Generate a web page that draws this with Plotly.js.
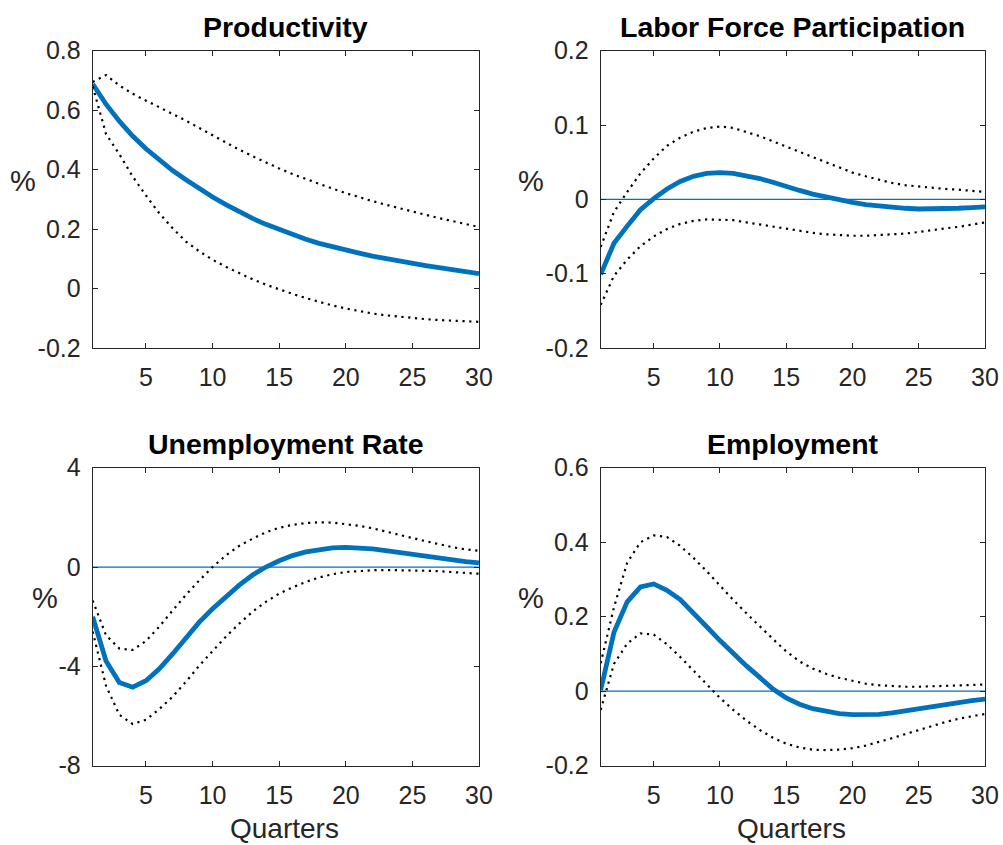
<!DOCTYPE html>
<html>
<head>
<meta charset="utf-8">
<script src="https://cdn.plot.ly/plotly-3.0.1.min.js"></script>
<style>
html,body{margin:0;padding:0;background:#fff;}
#chart{width:1003px;height:845px;}
</style>
</head>
<body>
<div id="chart"></div>
<script>
// ---------- data ----------
const quarters = [1,2,3,4,5,6,7,8,9,10,11,12,13,14,15,16,17,18,19,20,21,22,23,24,25,26,27,28,29,30];
const zeroX = [1,30];
const zeroY = [0,0];

const panelTitles = ["Productivity","Labor Force Participation","Unemployment Rate","Employment"];
const yUnit = "%";
const xLabel = "Quarters";
const xTicks = [5,10,15,20,25,30];

const prodMid = [0.688,0.620,0.563,0.513,0.470,0.432,0.397,0.366,0.336,0.308,0.282,0.258,0.236,0.216,0.198,0.181,0.166,0.152,0.140,0.129,0.119,0.109,0.100,0.092,0.084,0.077,0.070,0.063,0.057,0.050];
const prodUp  = [0.695,0.718,0.683,0.655,0.632,0.610,0.588,0.565,0.540,0.515,0.491,0.467,0.445,0.424,0.404,0.385,0.368,0.352,0.336,0.321,0.307,0.294,0.282,0.270,0.258,0.248,0.237,0.227,0.217,0.207];
const prodLo  = [0.680,0.520,0.452,0.377,0.313,0.253,0.203,0.158,0.125,0.097,0.073,0.051,0.031,0.013,-0.003,-0.018,-0.032,-0.045,-0.057,-0.067,-0.076,-0.084,-0.090,-0.095,-0.099,-0.103,-0.106,-0.108,-0.110,-0.112];

const lfpMid = [-0.101,-0.059,-0.036,-0.014,0.001,0.014,0.024,0.031,0.035,0.036,0.035,0.032,0.028,0.023,0.017,0.012,0.007,0.003,-0.001,-0.004,-0.007,-0.009,-0.011,-0.012,-0.013,-0.013,-0.013,-0.012,-0.011,-0.010];
const lfpUp  = [-0.064,-0.017,0.010,0.035,0.055,0.072,0.083,0.091,0.096,0.098,0.096,0.091,0.085,0.078,0.071,0.063,0.056,0.049,0.042,0.036,0.031,0.026,0.022,0.019,0.017,0.015,0.014,0.013,0.011,0.010];
const lfpLo  = [-0.142,-0.103,-0.081,-0.063,-0.050,-0.040,-0.033,-0.029,-0.027,-0.027,-0.028,-0.031,-0.034,-0.037,-0.040,-0.043,-0.045,-0.047,-0.048,-0.049,-0.049,-0.048,-0.047,-0.046,-0.044,-0.041,-0.039,-0.037,-0.034,-0.031];

const unMid = [-2.00,-3.78,-4.65,-4.84,-4.58,-4.10,-3.50,-2.86,-2.22,-1.68,-1.18,-0.73,-0.32,0.00,0.25,0.46,0.61,0.71,0.77,0.79,0.77,0.73,0.66,0.58,0.50,0.42,0.35,0.28,0.22,0.17];
const unUp  = [-1.35,-2.75,-3.28,-3.34,-2.98,-2.40,-1.75,-1.12,-0.54,0.00,0.47,0.85,1.14,1.40,1.58,1.70,1.77,1.80,1.79,1.74,1.66,1.56,1.44,1.31,1.17,1.04,0.91,0.80,0.71,0.65];
const unLo  = [-2.60,-4.78,-5.95,-6.32,-6.15,-5.72,-5.22,-4.62,-3.97,-3.38,-2.80,-2.28,-1.80,-1.40,-1.07,-0.82,-0.60,-0.42,-0.29,-0.20,-0.15,-0.13,-0.12,-0.12,-0.13,-0.15,-0.17,-0.20,-0.23,-0.27];

const empMid = [0.003,0.158,0.240,0.280,0.288,0.271,0.246,0.211,0.173,0.136,0.101,0.068,0.037,0.006,-0.018,-0.035,-0.047,-0.055,-0.060,-0.063,-0.064,-0.062,-0.058,-0.052,-0.046,-0.040,-0.035,-0.030,-0.025,-0.021];
const empUp  = [0.075,0.225,0.345,0.400,0.418,0.414,0.390,0.358,0.322,0.283,0.245,0.209,0.174,0.140,0.107,0.080,0.061,0.047,0.036,0.027,0.020,0.016,0.013,0.012,0.012,0.013,0.014,0.016,0.017,0.018];
const empLo  = [-0.050,0.073,0.128,0.155,0.152,0.126,0.092,0.056,0.018,-0.018,-0.050,-0.079,-0.104,-0.125,-0.141,-0.151,-0.157,-0.158,-0.157,-0.153,-0.146,-0.137,-0.126,-0.115,-0.104,-0.093,-0.083,-0.074,-0.067,-0.061];

const prodTicks = [-0.2,0,0.2,0.4,0.6,0.8];
const prodTickText = ["-0.2","0","0.2","0.4","0.6","0.8"];
const lfpTicks = [-0.2,-0.1,0,0.1,0.2];
const lfpTickText = ["-0.2","-0.1","0","0.1","0.2"];
const unTicks = [-8,-4,0,4];
const unTickText = ["-8","-4","0","4"];
const empTicks = [-0.2,0,0.2,0.4,0.6];
const empTickText = ["-0.2","0","0.2","0.4","0.6"];

// ---------- style ----------
const BLUE = "#0072BD";
const AX = "#262626";
const FONT = "Liberation Sans, Arial, Helvetica, sans-serif";
const W = 1003, H = 845;

function px2x(p){return p/W;}
function px2y(p){return 1-p/H;}

const panels = [
  {mid:prodMid, up:prodUp, lo:prodLo, zero:false, ticks:prodTicks, text:prodTickText, xa:"x",  ya:"y"},
  {mid:lfpMid,  up:lfpUp,  lo:lfpLo,  zero:true,  ticks:lfpTicks,  text:lfpTickText,  xa:"x2", ya:"y2"},
  {mid:unMid,   up:unUp,   lo:unLo,   zero:true,  ticks:unTicks,   text:unTickText,   xa:"x3", ya:"y3"},
  {mid:empMid,  up:empUp,  lo:empLo,  zero:true,  ticks:empTicks,  text:empTickText,  xa:"x4", ya:"y4"}
];

const boxes = [
  {l:92.7, r:479, t:50.7, b:348},
  {l:600.7, r:985, t:50.7, b:348},
  {l:92.7, r:479, t:467.7, b:765.7},
  {l:600.7, r:985, t:467.7, b:765.7}
];

const traces = [];
panels.forEach(p=>{
  if(p.zero){
    traces.push({x:zeroX, y:zeroY, xaxis:p.xa, yaxis:p.ya, mode:"lines",
      line:{color:BLUE, width:1.2}, hoverinfo:"skip", showlegend:false});
  }
  traces.push({x:quarters, y:p.mid, xaxis:p.xa, yaxis:p.ya, mode:"lines",
    line:{color:BLUE, width:4.8}, showlegend:false});
  traces.push({x:quarters, y:p.up, xaxis:p.xa, yaxis:p.ya, mode:"lines",
    line:{color:"#000", width:2.2, dash:"2.2px,4.6px"}, showlegend:false});
  traces.push({x:quarters, y:p.lo, xaxis:p.xa, yaxis:p.ya, mode:"lines",
    line:{color:"#000", width:2.2, dash:"2.2px,4.6px"}, showlegend:false});
});

function xAxis(i, anchor){
  const b = boxes[i];
  return {
    domain:[px2x(b.l), px2x(b.r)], anchor:anchor, range:[1,30],
    tickmode:"array", tickvals:xTicks, ticktext:xTicks.map(String),
    ticks:"inside", ticklen:5, tickwidth:1, tickcolor:AX,
    showline:true, linecolor:AX, linewidth:1, mirror:"ticks",
    showgrid:false, zeroline:false, fixedrange:true,
    tickfont:{family:FONT, size:25, color:AX}, ticklabelstandoff:7
  };
}
function yAxis(i, anchor){
  const b = boxes[i];
  const p = panels[i];
  return {
    domain:[px2y(b.b), px2y(b.t)], anchor:anchor,
    range:[p.ticks[0], p.ticks[p.ticks.length-1]],
    tickmode:"array", tickvals:p.ticks, ticktext:p.text,
    ticks:"inside", ticklen:5, tickwidth:1, tickcolor:AX,
    showline:true, linecolor:AX, linewidth:1, mirror:"ticks",
    showgrid:false, zeroline:false, fixedrange:true,
    tickfont:{family:FONT, size:25, color:AX}, ticklabelstandoff:6
  };
}

const annotations = [];
panelTitles.forEach((t,i)=>{
  const b = boxes[i];
  annotations.push({text:"<b>"+t+"</b>", xref:"paper", yref:"paper",
    x:px2x((b.l+b.r)/2), y:px2y(b.t-23.5), xanchor:"center", yanchor:"middle",
    showarrow:false, font:{family:FONT, size:28.5, color:"#000"}});
});
const pctPos = [[23,181],[531,181],[45,598],[531,598]];
pctPos.forEach(pp=>{
  annotations.push({text:yUnit, xref:"paper", yref:"paper",
    x:px2x(pp[0]), y:px2y(pp[1]), xanchor:"center", yanchor:"middle",
    showarrow:false, font:{family:FONT, size:29, color:AX}});
});
[[284,0],[791,0]].forEach(pp=>{
  annotations.push({text:xLabel, xref:"paper", yref:"paper",
    x:px2x(pp[0]), y:pp[1], xanchor:"center", yanchor:"bottom", borderpad:0,
    showarrow:false, font:{family:FONT, size:28, color:AX}});
});

const layout = {
  width:W, height:H, margin:{l:0,r:0,t:0,b:0},
  paper_bgcolor:"#fff", plot_bgcolor:"#fff",
  font:{family:FONT, color:AX},
  showlegend:false,
  xaxis: xAxis(0,"y"), yaxis: yAxis(0,"x"),
  xaxis2: xAxis(1,"y2"), yaxis2: yAxis(1,"x2"),
  xaxis3: xAxis(2,"y3"), yaxis3: yAxis(2,"x3"),
  xaxis4: xAxis(3,"y4"), yaxis4: yAxis(3,"x4"),
  annotations: annotations
};

Plotly.newPlot("chart", traces, layout, {displayModeBar:false, staticPlot:true});
</script>
</body>
</html>
